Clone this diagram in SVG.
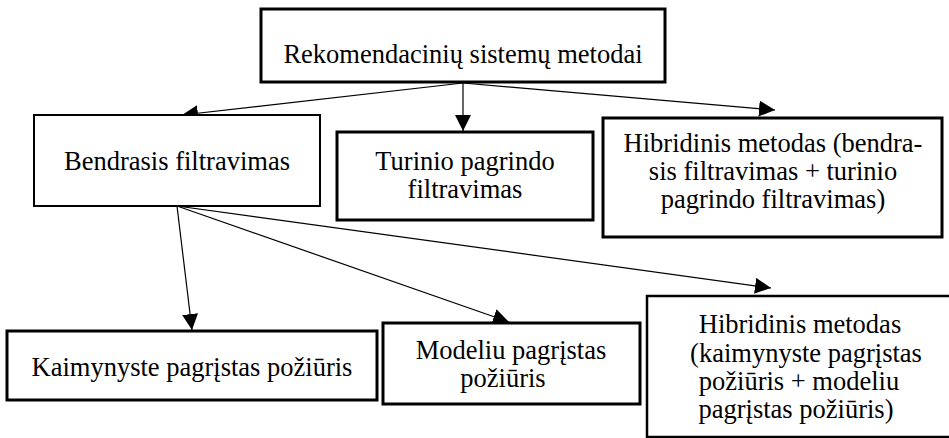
<svg xmlns="http://www.w3.org/2000/svg" width="949" height="438" viewBox="0 0 949 438">
<defs>
<marker id="arr" markerUnits="userSpaceOnUse" markerWidth="18" markerHeight="18" refX="16" refY="8" orient="auto">
<path d="M0,0 L16,8 L0,16 z" fill="#000"/>
</marker>
<style>
.box{fill:#fff;stroke:#000;stroke-width:3}
.thin{stroke-width:2}
.t{font-size:26.5px;fill:#000;text-anchor:middle}
.c{stroke:#000;stroke-width:1.2;fill:none;marker-end:url(#arr)}
</style>
</defs>
<rect width="949" height="438" fill="#fff"/>
<g id="connectors">
<line class="c" x1="463" y1="83" x2="182" y2="115"/>
<line class="c" x1="463" y1="83" x2="463" y2="131"/>
<line class="c" x1="463" y1="83" x2="775" y2="110"/>
<line class="c" x1="177" y1="206" x2="192" y2="330"/>
<line class="c" x1="177" y1="206" x2="509" y2="322"/>
<line class="c" x1="177" y1="206" x2="771" y2="288"/>
</g>
<g font-family="'Liberation Serif', Tinos, 'Times New Roman', 'DejaVu Serif', serif">
<g id="root">
<rect class="box" x="261" y="9" width="404" height="73"/>
<text class="t" x="463" y="63">Rekomendacinių sistemų metodai</text>
</g>
<g id="bendrasis">
<rect class="box thin" x="34" y="115" width="286" height="91"/>
<text class="t" x="177" y="170">Bendrasis filtravimas</text>
</g>
<g id="turinio">
<rect class="box" x="337" y="132" width="256" height="88"/>
<text class="t" x="465" y="170">Turinio pagrindo</text>
<text class="t" x="465" y="198">filtravimas</text>
</g>
<g id="hibridinis1">
<rect class="box" x="603" y="118" width="339" height="119"/>
<text class="t" x="773" y="152">Hibridinis metodas (bendra-</text>
<text class="t" x="773" y="180">sis filtravimas + turinio</text>
<text class="t" x="773" y="208">pagrindo filtravimas)</text>
</g>
<g id="kaimynyste">
<rect class="box" x="7" y="331" width="370" height="69"/>
<text class="t" x="192" y="376">Kaimynyste pagrįstas požiūris</text>
</g>
<g id="modeliu">
<rect class="box" x="383" y="323" width="257" height="81"/>
<text class="t" x="511" y="359">Modeliu pagrįstas</text>
<text class="t" x="503" y="387">požiūris</text>
</g>
<g id="hibridinis2">
<rect class="box" x="647" y="296" width="320" height="141" style="stroke-width:2.5"/>
<text class="t" x="800" y="333">Hibridinis metodas</text>
<text class="t" x="806" y="362">(kaimynyste pagrįstas</text>
<text class="t" x="799" y="390">požiūris + modeliu</text>
<text class="t" x="796" y="418">pagrįstas požiūris)</text>
</g>
</g>
</svg>
